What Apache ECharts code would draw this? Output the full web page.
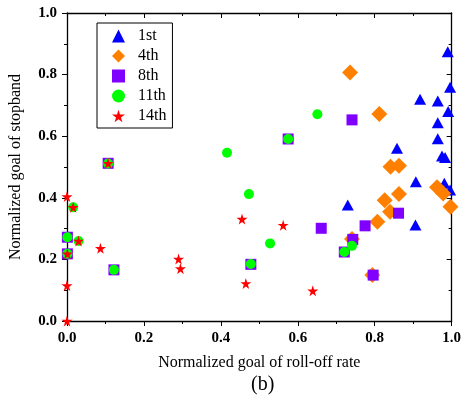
<!DOCTYPE html>
<html>
<head>
<meta charset="utf-8">
<script src="https://cdn.jsdelivr.net/npm/echarts@6/dist/echarts.min.js"></script>
<style>
  html, body { margin: 0; padding: 0; background: #fff; }
  #chart { width: 464px; height: 398px; }
</style>
</head>
<body>
<div id="chart"></div>
<script>
// [roll-off, stopband] pairs
const first = [
  [0.990, 0.874], [0.996, 0.759], [0.918, 0.720], [0.964, 0.714], [0.991, 0.680],
  [0.964, 0.644], [0.964, 0.592], [0.975, 0.536], [0.983, 0.531], [0.858, 0.561],
  [0.907, 0.452], [0.981, 0.447], [0.996, 0.425], [0.906, 0.312], [0.730, 0.377]
];
const fourth = [
  [0.736, 0.807], [0.812, 0.672], [0.841, 0.501], [0.863, 0.504], [0.962, 0.434],
  [0.978, 0.414], [0.863, 0.412], [0.826, 0.392], [0.997, 0.371], [0.840, 0.355],
  [0.807, 0.322], [0.741, 0.266], [0.794, 0.149]
];
const eighth = [
  [0.107, 0.512], [0.741, 0.653], [0.575, 0.591], [0.661, 0.301], [0.775, 0.309],
  [0.862, 0.350], [0.743, 0.265], [0.721, 0.224], [0.796, 0.149], [0.478, 0.184],
  [0.001, 0.272], [0.001, 0.218], [0.122, 0.166]
];
const eleventh = [
  [0.416, 0.546], [0.107, 0.511], [0.651, 0.671], [0.575, 0.591], [0.473, 0.412],
  [0.528, 0.252], [0.478, 0.185], [0.721, 0.224], [0.741, 0.244], [0.016, 0.369],
  [0.001, 0.272], [0.030, 0.260], [0.001, 0.218], [0.122, 0.166]
];
const fourteenth = [
  [0.107, 0.512], [0.000, 0.404], [0.016, 0.369], [0.030, 0.260], [0.001, 0.218],
  [0.087, 0.236], [0.000, 0.115], [0.000, 0.000], [0.290, 0.201], [0.295, 0.170],
  [0.455, 0.331], [0.465, 0.122], [0.562, 0.311], [0.639, 0.098]
];
const seriesNames = ["1st", "4th", "8th", "11th", "14th"];

const STAR = "path://M50,0 L61,35 L98,35 L68,57 L79,91 L50,70 L21,91 L32,57 L2,35 L39,35 Z";
const FONT = "Liberation Serif";

const chart = echarts.init(document.getElementById("chart"));

const tickAxis = (pos, show) => ({
  type: "value",
  position: pos,
  min: 0,
  max: 1,
  interval: 0.2,
  axisLine: { show: true, onZero: false, lineStyle: { color: "#000", width: 1.3 } },
  axisTick: { show: true, inside: !show, length: 5, lineStyle: { color: "#000", width: 1 } },
  minorTick: { show: true, splitNumber: 2, length: 3, lineStyle: { color: "#000", width: 1 } },
  splitLine: { show: false },
  axisLabel: {
    show: show,
    margin: 10,
    color: "#000",
    fontFamily: FONT,
    fontWeight: "bold",
    fontSize: 15,
    formatter: (v) => v.toFixed(1)
  }
});

const xMain = Object.assign(tickAxis("bottom", true), {
  name: "Normalized goal of roll-off rate",
  nameLocation: "middle",
  nameGap: 34,
  nameTextStyle: { fontFamily: FONT, fontSize: 16, color: "#000" }
});
const yMain = Object.assign(tickAxis("left", true), {
  name: "Normalized goal of stopband",
  nameLocation: "middle",
  nameGap: 43,
  nameTextStyle: { fontFamily: FONT, fontSize: 16, color: "#000" }
});

function scatter(name, data, symbol, size, color) {
  return {
    name: name,
    type: "scatter",
    data: data,
    symbol: symbol,
    symbolSize: size,
    clip: false,
    itemStyle: { color: color, opacity: 1 },
    emphasis: { disabled: true }
  };
}

chart.setOption({
  backgroundColor: "#fff",
  animation: false,
  grid: { left: 63, right: 8, top: 13, bottom: 77 },
  title: {
    text: "(b)",
    left: 246,
    top: 370,
    textStyle: { fontFamily: FONT, fontSize: 20, fontWeight: "normal", color: "#000" }
  },
  legend: {
    orient: "vertical",
    left: 97,
    top: 23,
    padding: [5, 6, 4, 15],
    itemGap: 4,
    itemWidth: 13,
    itemHeight: 13,
    borderColor: "#000",
    borderWidth: 1,
    data: seriesNames,
    textStyle: { fontFamily: FONT, fontSize: 16, lineHeight: 14, color: "#000", padding: [0, 0, 0, 8] }
  },
  xAxis: [xMain, tickAxis("top", false)],
  yAxis: [yMain, tickAxis("right", false)],
  series: [
    scatter(seriesNames[0], first, "triangle", [12, 11], "#0000ff"),
    scatter(seriesNames[1], fourth, "diamond", 16, "#ff8000"),
    scatter(seriesNames[2], eighth, "rect", 11, "#8000ff"),
    scatter(seriesNames[3], eleventh, "circle", 10, "#00ff00"),
    scatter(seriesNames[4], fourteenth, STAR, 11, "#ff0000")
  ]
});
</script>
</body>
</html>
